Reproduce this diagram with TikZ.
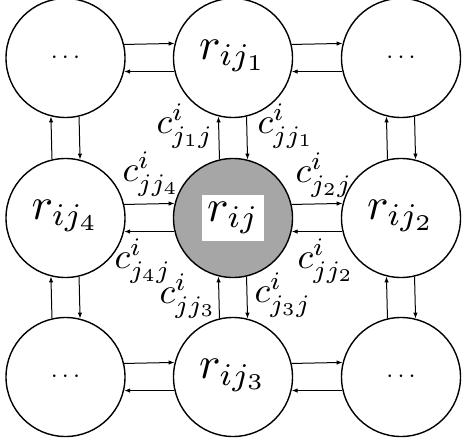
\documentclass[tikz,border=0pt]{standalone}
\usetikzlibrary{arrows.meta}
\begin{document}
\begin{tikzpicture}[x=1pt,y=-1pt,
  cell/.style={circle,draw,line width=1.4pt,minimum size=119pt,inner sep=0pt},
  link/.style={line width=1pt,-{Latex[length=6pt,width=4.5pt]}},
  rlab/.style={scale=4.5,inner sep=0pt},
  clab/.style={scale=3.6,inner sep=0pt},
  dotlab/.style={scale=2.5,inner sep=0pt}]
\useasboundingbox (0,0) rectangle (462,443);
% cells
\node[cell] (tl) at (65.5,58) {};
\node[cell] (tm) at (233,58) {};
\node[cell] (tr) at (401,58) {};
\node[cell] (ml) at (65.5,218) {};
\node[cell,fill=black!35] (cc) at (233,218) {};
\node[cell] (mr) at (401,218) {};
\node[cell] (bl) at (65.5,377) {};
\node[cell] (bm) at (233,377) {};
\node[cell] (br) at (401,377) {};
% cell labels
\node[dotlab] (dtl) at (tl) {$\cdots$};
\node[dotlab] (dtr) at (tr) {$\cdots$};
\node[dotlab] (dbl) at (bl) {$\cdots$};
\node[dotlab] (dbr) at (br) {$\cdots$};
\node[rlab] (ltm) at ([yshift=2pt]tm) {$r_{ij_1}$};
\node[rlab] (lml) at ([yshift=2pt]ml) {$r_{ij_4}$};
\node[rlab] (lmr) at ([yshift=2pt]mr) {$r_{ij_2}$};
\node[rlab] (lbm) at ([yshift=2pt]bm) {$r_{ij_3}$};
\node[rlab,fill=white,minimum width=13.6pt,minimum height=10.4pt] (lcc) at (cc) {$r_{ij}$};
% horizontal links
\foreach \a/\b in {tl/tm,tm/tr,ml/cc,cc/mr,bl/bm,bm/br}{
  \draw[link] (\a.13.1) -- (\b.166.9);
  \draw[link] (\b.193.1) -- (\a.-13.1);
}
% vertical links
\foreach \a/\b in {tl/ml,ml/bl,tm/cc,cc/bm,tr/mr,mr/br}{
  \draw[link] (\b.103.1) -- (\a.256.9);
  \draw[link] (\a.283.1) -- (\b.76.9);
}
% link labels
\node[clab] (c1a) at (185,126) {$c^{i}_{j_1j}$};
\node[clab] (c1b) at (286,126) {$c^{i}_{jj_1}$};
\node[clab] (c4a) at (151,174) {$c^{i}_{jj_4}$};
\node[clab] (c4b) at (143,261) {$c^{i}_{j_4j}$};
\node[clab] (c2a) at (324,175) {$c^{i}_{j_2j}$};
\node[clab] (c2b) at (326,261) {$c^{i}_{jj_2}$};
\node[clab] (c3a) at (188,296) {$c^{i}_{jj_3}$};
\node[clab] (c3b) at (283,295) {$c^{i}_{j_3j}$};
\end{tikzpicture}
\end{document}
